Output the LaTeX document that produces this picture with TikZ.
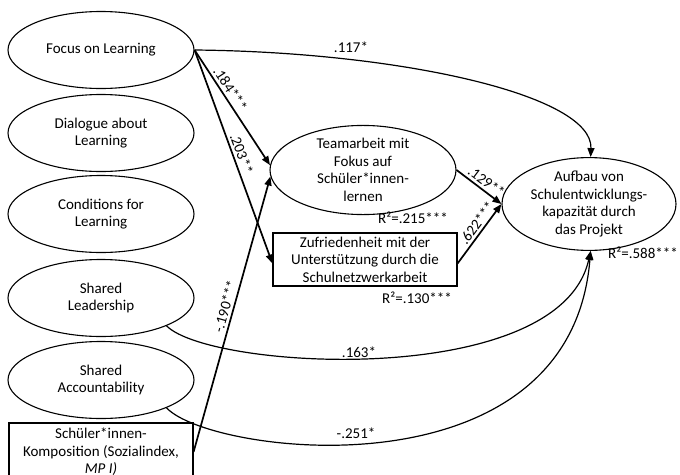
\documentclass[tikz,border=0pt]{standalone}
\usepackage{fontspec}
\setmainfont{Carlito}
\usetikzlibrary{shapes.geometric,arrows.meta}
\begin{document}
\begin{tikzpicture}[x=1pt,y=-1pt,
  every node/.style={font=\fontsize{15}{17.5}\selectfont},
  ell/.style={draw,ellipse,line width=1.1pt,minimum width=186pt,minimum height=77pt,inner sep=0pt,align=center},
  box/.style={draw,rectangle,line width=1.1pt,inner sep=0pt,align=center},
  thick arrow/.style={line width=1.7pt,-{Triangle[length=9pt,width=7pt]}},
  curve arrow/.style={line width=1.2pt,-{Triangle[length=9pt,width=7pt]}},
  lab/.style={inner sep=1.5pt},
  slab/.style={inner sep=2.5pt,sloped,above}]
\useasboundingbox (0,0) rectangle (680,474);
\clip (0,0) rectangle (680,474);
\node[ell] (focus) at (101,50) {Focus on Learning};
\node[ell] (dialogue) at (101,133) {Dialogue about\\Learning};
\node[ell] (conditions) at (101,214) {Conditions for\\Learning};
\node[ell] (leadership) at (101,298) {Shared\\Leadership};
\node[ell] (accountability) at (101,380) {Shared\\Accountability};
\node[box,minimum width=184pt,minimum height=58pt] (schueler) at (101,452) {Schüler*innen-\\Komposition (Sozialindex,\\\textit{MP I)}};
\node[ell] (team) at (363,170) {Teamarbeit mit\\Fokus auf\\Schüler*innen-\\lernen};
\node[box,minimum width=184pt,minimum height=53pt] (zufr) at (365,259.5) {Zufriedenheit mit der\\Unterstützung durch die\\Schulnetzwerkarbeit};
\node[ell,minimum width=174pt,minimum height=84pt] (aufbau) at (589,204) {Aufbau von\\Schulentwicklungs-\\kapazität durch\\das Projekt};
\node[lab] (r215) at (413,218) {R²=.215***};
\node[lab] (r130) at (417,298) {R²=.130***};
\node[lab] (r588) at (643,253) {R²=.588***};
\draw[curve arrow] (focus.east) .. controls (400,52) and (593,95) .. (aufbau.88);
\node[lab] (l117) at (351,47) {.117*};
\draw[thick arrow] (focus.east) -- (team.177) node[slab,pos=0.38] {.184***};
\draw[thick arrow] (focus.east) -- ([yshift=-4pt]zufr.west) node[slab,pos=0.5] {.203**};
\draw[thick arrow] (schueler.east) -- (team.184) node[slab,pos=0.52] {-.190***};
\draw[thick arrow] (team.east) -- (aufbau.west) node[slab,pos=0.55] {.129**};
\draw[thick arrow] ([yshift=-4pt]zufr.east) -- (aufbau.west) node[slab,pos=0.6] {.622***};
\draw[curve arrow] (leadership.-23) .. controls (210,370) and (560,390) .. (aufbau.-88);
\node[lab] (l163) at (359,352) {.163*};
\draw[curve arrow] (accountability.-23) .. controls (210,455) and (570,500) .. (aufbau.-88);
\node[lab] (l251) at (356,433) {-.251*};
\end{tikzpicture}
\end{document}
